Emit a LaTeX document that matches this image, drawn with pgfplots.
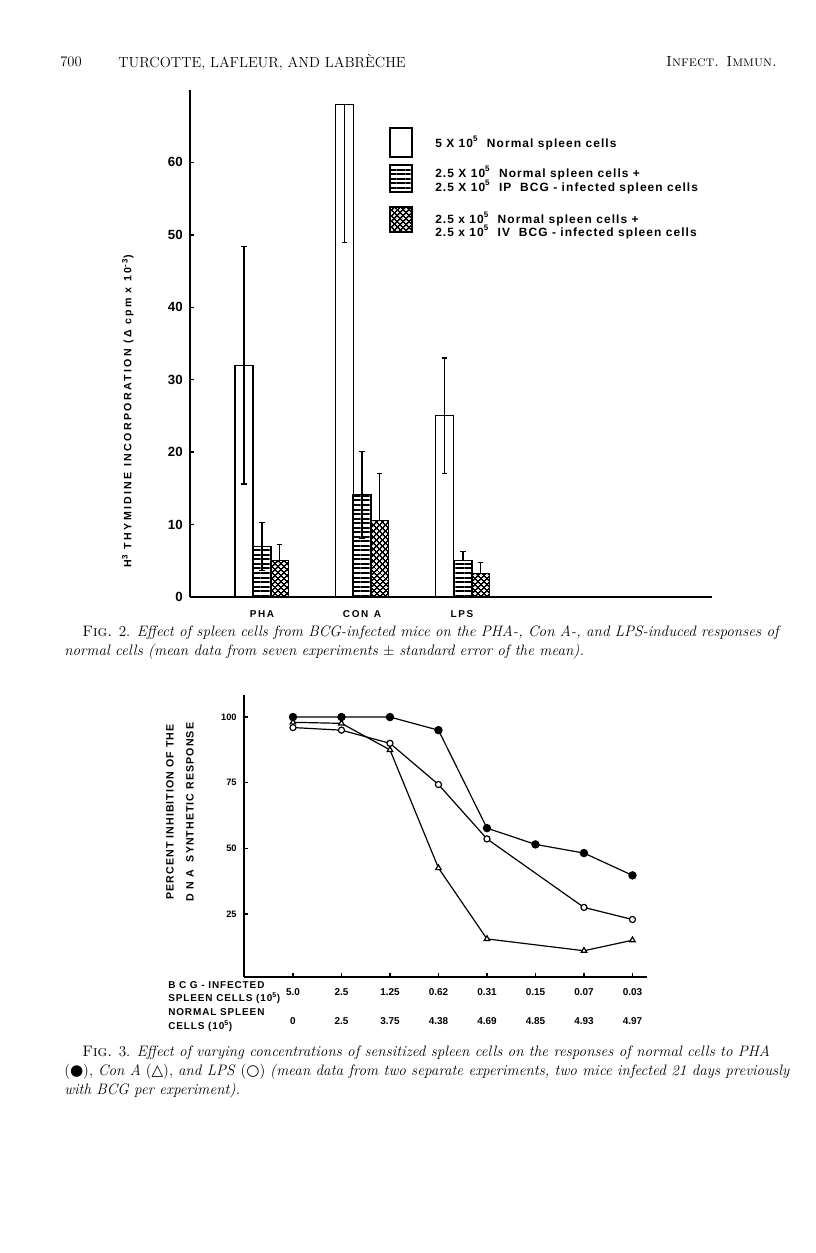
\documentclass[border=0pt]{standalone}
\usepackage{fontspec}
\usepackage{pgfplots}
\pgfplotsset{compat=1.18}
\usetikzlibrary{patterns.meta}
\newfontfamily\ff{Liberation Sans}
\newfontfamily\ffy{Liberation Sans}[LetterSpace=22]
\newfontfamily\ffl{Liberation Sans}[LetterSpace=9]
\newfontfamily\ffm{Liberation Sans}[LetterSpace=10]
\newfontfamily\dv{DejaVu Sans}
\pgfplotsset{
  eb/.style={error bars/.cd, y dir=both, y explicit,
    error bar style={line width=0.8pt,black,solid},
    error mark options={rotate=90,mark size=2.2pt,line width=0.8pt,black}},
  hpat/.style={pattern={Lines[angle=0,distance=3.4bp,line width=1.5bp]}},
  xpat/.style={pattern={Hatch[angle=45,distance=3.6bp,line width=1.3bp]}},
}
\begin{document}
\begin{tikzpicture}
\path[use as bounding box, fill=white] (0,0) rectangle (612bp,939.75bp);

% ---------------- Fig. 2 ----------------
\begin{axis}[
  at={(142.5bp,492bp)}, anchor=south west, scale only axis,
  width=391.5bp, height=380.25bp,
  xmin=0, xmax=5.22, ymin=0, ymax=70,
  axis x line=bottom, axis y line=left,
  x axis line style={-, line width=2pt},
  y axis line style={-, line width=1.5pt},
  clip=false,
  ytick={0,10,20,30,40,50,60},
  tick align=inside, major tick length=3bp,
  ytick style={line width=1pt, black},
  xtick={0.72,1.72,2.72},
  xticklabels={P\,H\,A, C\,O\,N\ \ A, L\,P\,S},
  xtick style={draw=none},
  xticklabel style={font=\ff\bfseries\fontsize{7.5}{8}\selectfont, yshift=-7bp},
  yticklabel style={font=\ff\bfseries\fontsize{10}{11}\selectfont, xshift=-2bp},
  /pgf/number format/assume math mode=true,
  ylabel={H\textsuperscript{3} THYMIDINE INCORPORATION (Δ cpm x 10\textsuperscript{-3})},
  ylabel style={font=\ffy\bfseries\fontsize{8}{9}\selectfont, at={(axis description cs:-0.119,0.367)}, anchor=center},
]
\addplot[ybar, bar width=13.5bp, bar shift=0pt, draw=black, line width=0.8pt, fill=white, eb]
  coordinates {(0.54,32) +- (0,16.4) (1.545,68) += (0,0) -= (0,19) (2.545,25) +- (0,8)};
\addplot[ybar, bar width=13.5bp, bar shift=0pt, draw=black, line width=0.8pt, hpat, eb]
  coordinates {(0.72,7) +- (0,3.3) (1.72,14.1) +- (0,6) (2.73,5.1) += (0,1.2) -= (0,0)};
\addplot[ybar, bar width=13.5bp, bar shift=0pt, draw=black, line width=0.8pt, xpat, eb]
  coordinates {(0.895,5.1) += (0,2.2) -= (0,0) (1.895,10.5) += (0,6.6) -= (0,0) (2.905,3.2) += (0,1.5) -= (0,0)};
\end{axis}

% ---------------- Fig. 3 ----------------
\begin{axis}[
  at={(183bp,207bp)}, anchor=south west, scale only axis,
  width=302.25bp, height=211.5bp,
  xmin=-1.01, xmax=7.3, ymin=1, ymax=108.4,
  axis x line=bottom, axis y line=left,
  x axis line style={-, line width=1.8pt},
  y axis line style={-, line width=1.5pt},
  clip=false,
  ytick={25,50,75,100}, xtick={0,1,2,3,4,5,6,7},
  tick align=inside, major tick length=3bp,
  tick style={line width=0.9pt, black},
  xticklabels={{5.0\\[13bp]0},{2.5\\[13bp]2.5},{1.25\\[13bp]3.75},{0.62\\[13bp]4.38},{0.31\\[13bp]4.69},{0.15\\[13bp]4.85},{0.07\\[13bp]4.93},{0.03\\[13bp]4.97}},
  xticklabel style={align=center, font=\ff\bfseries\fontsize{7.5}{9}\selectfont, yshift=-5bp},
  yticklabel style={font=\ff\bfseries\fontsize{7}{8}\selectfont, xshift=-2bp},
  /pgf/number format/assume math mode=true,
  ylabel={PERCENT INHIBITION OF THE\\D N A \ SYNTHETIC RESPONSE},
  ylabel style={align=center, font=\ffm\bfseries\fontsize{8}{15}\selectfont, at={(axis description cs:-0.159,0.585)}, anchor=center},
]
% LPS (open circles)
\addplot[black, line width=0.9pt, mark=*, mark size=2.3pt, mark options={fill=white, line width=0.9pt}]
  coordinates {(0,96)(1,95)(2,90)(3,74.3)(4,53.6)(6,27.5)(7,22.9)};
% Con A (triangles)
\addplot[black, line width=0.9pt, mark=triangle*, mark size=2.4pt, mark options={fill=white, line width=0.9pt}]
  coordinates {(0,98)(1,97.6)(2,87.5)(3,42.5)(4,15.5)(6,11)(7,15)};
% PHA (filled circles)
\addplot[black, line width=0.9pt, mark=*, mark size=2.7pt, mark options={fill=black}]
  coordinates {(0,100)(1,100)(2,100)(3,95)(4,57.7)(5,51.5)(6,48.2)(7,39.7)};
\end{axis}

% ---------------- page text ----------------
\begin{scope}[shift={(0bp,939.75bp)}, x=0.75bp, y=-0.75bp]
  % header
  \node[anchor=west, inner sep=0, font=\fontsize{11}{13}\selectfont] at (60,62) {700};
  \node[anchor=west, inner sep=0, font=\fontsize{11}{13}\selectfont] at (118,62) {TURCOTTE, LAFLEUR, AND LABRÈCHE};
  \node[anchor=east, inner sep=0, font=\fontsize{11}{13}\selectfont] at (777,62) {\textsc{Infect. Immun.}};

  % legend of Fig. 2
  \draw[line width=1pt, fill=white] (390,128) rectangle (412,157);
  \draw[line width=1pt, pattern={Lines[angle=0,distance=3.4bp,line width=1.5bp]}] (390,165) rectangle (412,192);
  \draw[line width=1pt, pattern={Hatch[angle=45,distance=3.6bp,line width=1.3bp]}] (390,207) rectangle (412,232);
  \begin{scope}[every node/.style={anchor=west, inner sep=0, font=\ffl\bfseries\fontsize{9}{10}\selectfont}]
    \node at (435,143) {5 X 10\textsuperscript{5}\ \ Normal spleen cells};
    \node at (435,173) {2.5 X 10\textsuperscript{5}\ \ Normal spleen cells +};
    \node at (435,187) {2.5 X 10\textsuperscript{5}\ \ IP\ \ BCG - infected spleen cells};
    \node at (435,219) {2.5 x 10\textsuperscript{5}\ \ Normal spleen cells +};
    \node at (435,232) {2.5 x 10\textsuperscript{5}\ \ IV\ \ BCG - infected spleen cells};
  \end{scope}

  % caption Fig. 2
  \begin{scope}[every node/.style={anchor=west, inner sep=0, font=\fontsize{11.4}{13}\selectfont}]
    \node at (82,633) {\textsc{Fig.} 2. \textit{Effect of spleen cells from BCG-infected mice on the PHA-, Con A-, and LPS-induced responses of}};
    \node at (64,652) {\textit{normal cells (mean data from seven experiments} $\pm$ \textit{standard error of the mean).}};
  \end{scope}

  % row labels of Fig. 3
  \begin{scope}[every node/.style={anchor=west, inner sep=0, font=\ffl\bfseries\fontsize{7.5}{8}\selectfont}]
    \node at (168,985) {B C G - INFECTED};
    \node at (168,998) {SPLEEN CELLS (10\textsuperscript{5})};
    \node at (168,1012) {NORMAL SPLEEN};
    \node at (168,1026) {CELLS (10\textsuperscript{5})};
  \end{scope}

  % caption Fig. 3
  \begin{scope}[every node/.style={anchor=west, inner sep=0, font=\fontsize{11.4}{13}\selectfont}]
    \node at (82,1053) {\textsc{Fig.} 3. \textit{Effect of varying concentrations of sensitized spleen cells on the responses of normal cells to PHA}};
    \node at (64,1072) {({\dv ●}), \textit{Con A} ({\dv △}), \textit{and LPS} ({\dv ○}) \textit{(mean data from two separate experiments, two mice infected 21 days previously}};
    \node at (64,1091) {\textit{with BCG per experiment).}};
  \end{scope}
\end{scope}
\end{tikzpicture}
\end{document}
